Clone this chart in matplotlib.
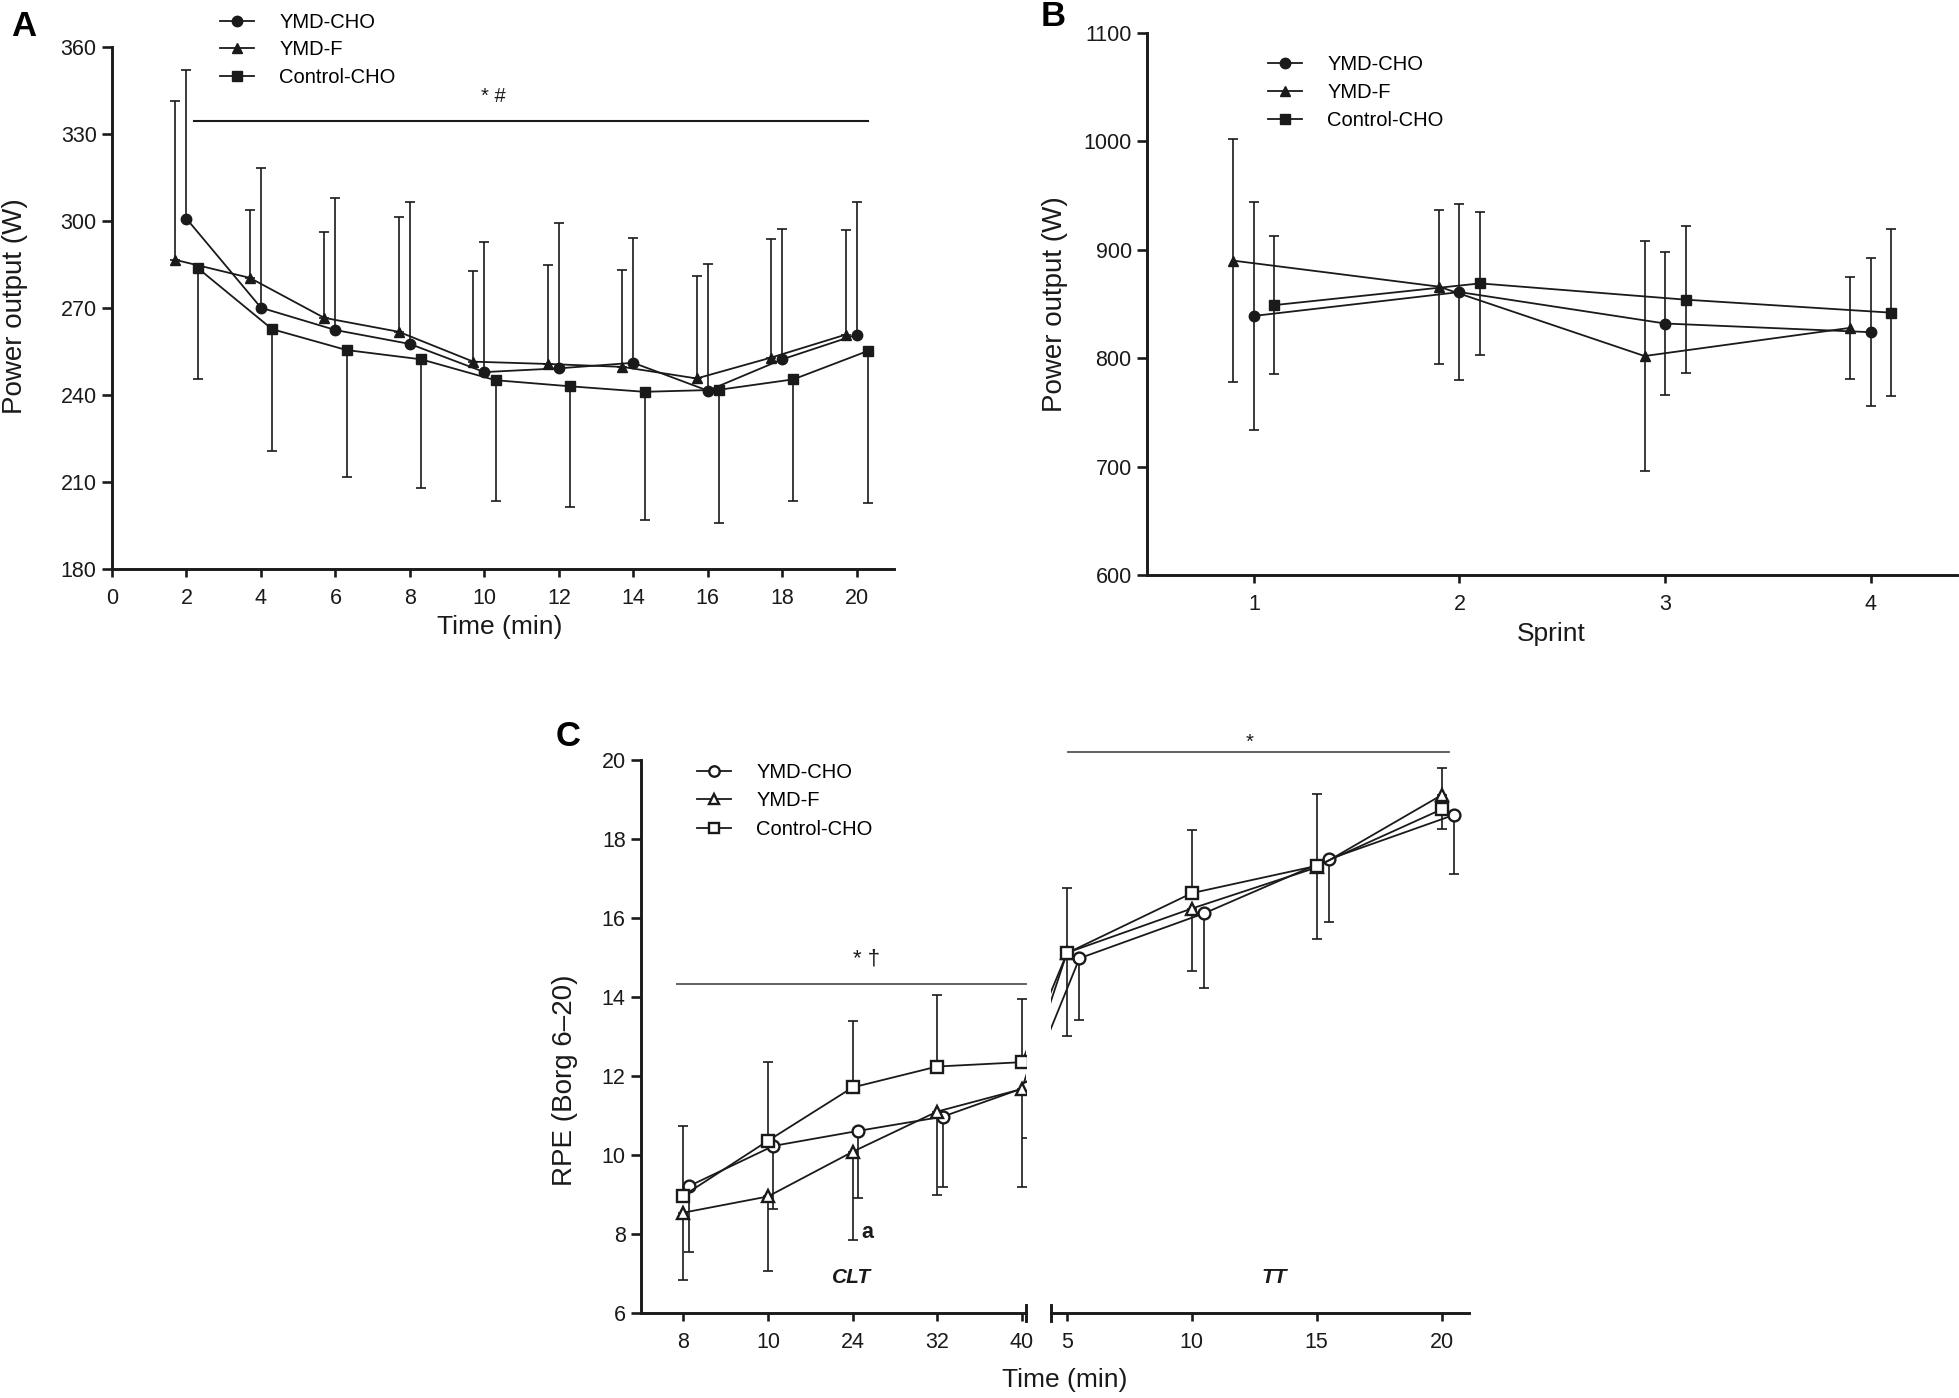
import matplotlib
matplotlib.use("Agg")
import matplotlib.pyplot as plt
from matplotlib import font_manager
from matplotlib.lines import Line2D
import numpy as np

W, H = 1959, 1398
names = {f.name for f in font_manager.fontManager.ttflist}
NARROW = "Liberation Sans Narrow" if "Liberation Sans Narrow" in names else "Liberation Sans"
plt.rcParams["font.family"] = ["Liberation Sans", "DejaVu Sans"]

INK = "#1a1a1a"
GROUPS = ["YMD-CHO", "YMD-F", "Control-CHO"]

# ---------------- Panel A: power output during 20 min ----------------
time_a = [2, 4, 6, 8, 10, 12, 14, 16, 18, 20]
a_cho = [300.8, 270.1, 262.4, 257.6, 247.9, 249.2, 251.1, 241.5, 252.3, 260.8]
a_cho_sd = [51.3, 48.1, 45.6, 48.9, 45.0, 50.0, 43.2, 43.6, 44.9, 45.7]
a_f = [286.6, 280.4, 266.6, 261.8, 251.5, 250.7, 249.7, 245.7, 252.9, 260.8]
a_f_sd = [54.7, 23.5, 29.6, 39.5, 31.2, 34.0, 33.5, 35.5, 41.0, 36.1]
a_ctrl = [283.8, 262.7, 255.5, 252.3, 245.1, 243.0, 241.1, 241.8, 245.4, 255.2]
a_ctrl_sd = [38.4, 42.1, 43.9, 44.3, 41.7, 41.7, 44.3, 46.1, 42.0, 52.6]

# ---------------- Panel B: sprint power ----------------
sprint = [1, 2, 3, 4]
b_cho = [839, 861, 832, 824]
b_cho_sd = [105, 81, 66, 68]
b_f = [890, 866, 802, 828]
b_f_sd = [112, 71, 106, 47]
b_ctrl = [849, 869, 854, 842]
b_ctrl_sd = [64, 66, 68, 77]

# ---------------- Panel C: RPE ----------------
clt_labels = ["8", "10", "24", "32", "40"]
tt_time = [5, 10, 15, 20]
c_cho_clt = [9.21, 10.23, 10.61, 10.97, 11.73]
c_cho_clt_sd = [1.66, 1.59, 1.69, 1.77, 1.29]
c_cho_tt = [14.98, 16.12, 17.49, 18.61]
c_cho_tt_sd = [1.57, 1.90, 1.60, 1.50]
c_cho_dir = ["down"] * 9
c_f_clt = [8.54, 8.95, 10.08, 11.10, 11.67]
c_f_clt_sd = [1.70, 1.89, 2.24, 2.10, 2.47]
c_f_tt = [15.12, 16.24, 17.28, 19.11]
c_f_tt_sd = [2.10, 1.57, 1.82, 0.68]
c_f_dir = ["down"] * 8 + ["up"]
c_ctrl_clt = [8.97, 10.36, 11.71, 12.24, 12.35]
c_ctrl_clt_sd = [1.77, 1.99, 1.68, 1.82, 1.60]
c_ctrl_tt = [15.11, 16.63, 17.32, 18.75]
c_ctrl_tt_sd = [1.64, 1.60, 1.82, 0.50]
c_ctrl_dir = ["up"] * 8 + ["down"]

fig = plt.figure(figsize=(W / 100, H / 100), dpi=100)


def px_axes(left, top, right, bottom):
    return fig.add_axes([left / W, 1 - bottom / H, (right - left) / W, (bottom - top) / H])


def px_text(x, y, s, **kw):
    fig.text(x / W, 1 - y / H, s, ha="center", va="center", **kw)


def style(ax):
    for side in ["top", "right"]:
        ax.spines[side].set_visible(False)
    for side in ["left", "bottom"]:
        ax.spines[side].set_linewidth(2.1)
        ax.spines[side].set_color(INK)
    ax.tick_params(direction="out", width=1.9, colors=INK, labelsize=15.5, labelcolor=INK)
    ax.tick_params(axis="x", length=6, pad=8)
    ax.tick_params(axis="y", length=7, pad=4)


def series(ax, x, y, sd, dirs, marker, filled, ms=7.5):
    y = np.asarray(y, float)
    sd = np.asarray(sd, float)
    lo = np.array([s if d in ("down", "both") else 0 for s, d in zip(sd, dirs)])
    hi = np.array([s if d in ("up", "both") else 0 for s, d in zip(sd, dirs)])
    ax.errorbar(x, y, yerr=[lo, hi], fmt="none", ecolor=INK, elinewidth=1.2,
                capsize=3.6, capthick=1.2, zorder=2)
    ax.plot(x, y, color=INK, lw=1.3, marker=marker, ms=ms,
            mfc=INK if filled else "white", mec=INK, mew=1.0 if filled else 1.7, zorder=3)


def legend(ax, markers, filled, x, y, pitch):
    handles = [Line2D([], [], color=INK, lw=1.3, marker=m, ms=7.5,
                      mfc=INK if filled else "white", mec=INK, mew=1.0 if filled else 1.7)
               for m in markers]
    ax.legend(handles, GROUPS, loc="upper left", bbox_to_anchor=(x / W, 1 - y / H),
              bbox_transform=fig.transFigure, frameon=False, borderpad=0, borderaxespad=0,
              handlelength=1.7, handletextpad=1.25, labelspacing=pitch,
              prop={"family": NARROW, "size": 14.5})


# ---------- A ----------
axA = px_axes(112, 47, 894, 569)
style(axA)
ta = np.array(time_a, float)
series(axA, ta, a_cho, a_cho_sd, ["up"] * 10, "o", True)
series(axA, ta - 0.3, a_f, a_f_sd, ["up"] * 10, "^", True)
series(axA, ta + 0.3, a_ctrl, a_ctrl_sd, ["down"] * 10, "s", True)
axA.set_xlim(0, 21)
axA.set_ylim(180, 360)
axA.set_xticks(range(0, 21, 2))
axA.set_yticks(range(180, 361, 30))
axA.plot([2.2, 20.3], [334.6, 334.6], color=INK, lw=1.5)
axA.text(10.25, 343, "* #", ha="center", va="center", fontsize=14.5, color=INK)
legend(axA, ["o", "^", "s"], True, 220, 13, 0.42)
px_text(15, 306, "Power output (W)", rotation=90, fontsize=20, color=INK)
px_text(500, 627, "Time (min)", fontsize=19, color=INK)
px_text(24, 27, "A", fontsize=25, fontweight="bold", color="black")

# ---------- B ----------
axB = px_axes(1147, 33, 1957, 575)
style(axB)
sp = np.array(sprint, float)
series(axB, sp, b_cho, b_cho_sd, ["both"] * 4, "o", True)
series(axB, sp - 0.1, b_f, b_f_sd, ["both"] * 4, "^", True)
series(axB, sp + 0.1, b_ctrl, b_ctrl_sd, ["both"] * 4, "s", True)
axB.set_xlim(0.48, 4.42)
axB.set_ylim(600, 1100)
axB.set_xticks(sprint)
axB.set_yticks(range(600, 1101, 100))
legend(axB, ["o", "^", "s"], True, 1268, 55, 0.44)
px_text(1055, 304, "Power output (W)", rotation=90, fontsize=20, color=INK)
px_text(1551, 634, "Sprint", fontsize=19, color=INK)
px_text(1053, 16, "B", fontsize=25, fontweight="bold", color="black")

# ---------- C ----------
axC1 = px_axes(641, 760, 1026, 1313)
axC2 = px_axes(1051, 760, 1469, 1313)
style(axC1)
style(axC2)
axC2.spines["left"].set_visible(False)
axC2.tick_params(axis="y", left=False, labelleft=False)
axC1.set_xlim(-0.5, 4.05)
axC2.set_xlim(4.36, 21.1)
for a in (axC1, axC2):
    a.set_ylim(6, 20)
axC1.set_yticks(range(6, 21, 2))
axC1.set_xticks(range(5))
axC1.set_xticklabels(clt_labels)
axC2.set_xticks(tt_time)

pos = np.arange(5, dtype=float)
tt = np.array(tt_time, float)
c_sets = [
    (c_cho_clt, c_cho_clt_sd, c_cho_tt, c_cho_tt_sd, c_cho_dir, "o", 0.065, 0.5),
    (c_f_clt, c_f_clt_sd, c_f_tt, c_f_tt_sd, c_f_dir, "^", 0.0, 0.0),
    (c_ctrl_clt, c_ctrl_clt_sd, c_ctrl_tt, c_ctrl_tt_sd, c_ctrl_dir, "s", 0.0, 0.0),
]
for clt, clt_sd, ttv, tt_sd, dirs, mk, off1, off2 in c_sets:
    x1 = pos + off1
    x2 = tt + off2
    series(axC1, x1, clt, clt_sd, dirs[:5], mk, False, ms=8.5)
    series(axC2, x2, ttv, tt_sd, dirs[5:], mk, False, ms=8.5)
    # connecting segment across the axis break (clipped by each axes)
    p_tt = axC2.transData.transform((x2[0], ttv[0]))
    p_clt = axC1.transData.transform((x1[-1], clt[-1]))
    q1 = axC1.transData.inverted().transform(p_tt)
    q2 = axC2.transData.inverted().transform(p_clt)
    axC1.plot([x1[-1], q1[0]], [clt[-1], q1[1]], color=INK, lw=1.3, zorder=1)
    axC2.plot([q2[0], x2[0]], [q2[1], ttv[0]], color=INK, lw=1.3, zorder=1)

# break caps on the x axis
axC1.plot([1, 1], [-0.015, 0.015], transform=axC1.transAxes, color=INK, lw=2.1, clip_on=False)
axC2.plot([0, 0], [-0.015, 0.015], transform=axC2.transAxes, color=INK, lw=2.1, clip_on=False)

# significance markers
axC1.plot([-0.07, 4.05], [14.33, 14.33], color="#555555", lw=1.3, clip_on=False)
axC1.text(2.17, 14.97, "* \u2020", ha="center", va="center", fontsize=16, color=INK)
axC2.plot([5.04, 20.3], [20.19, 20.19], color="#555555", lw=1.3, clip_on=False)
axC2.text(12.3, 20.46, "*", ha="center", va="center", fontsize=14.5, color=INK, clip_on=False)
axC1.text(2.17, 8.03, "a", ha="center", va="center", fontsize=15.5, fontweight="bold",
          family=NARROW, color=INK)
axC1.text(1.99, 6.89, "CLT", ha="center", va="center", fontsize=15, fontweight="bold",
          style="italic", color=INK)
axC2.text(13.3, 6.89, "TT", ha="center", va="center", fontsize=15, fontweight="bold",
          style="italic", color=INK)

legend(axC1, ["o", "^", "s"], False, 697, 763, 0.47)
px_text(565, 1080, "RPE (Borg 6\u201320)", rotation=90, fontsize=20, color=INK)
px_text(1065, 1380, "Time (min)", fontsize=19, color=INK)
px_text(568, 737, "C", fontsize=25, fontweight="bold", color="black")

fig.savefig("out.png", dpi=100, facecolor="white")
